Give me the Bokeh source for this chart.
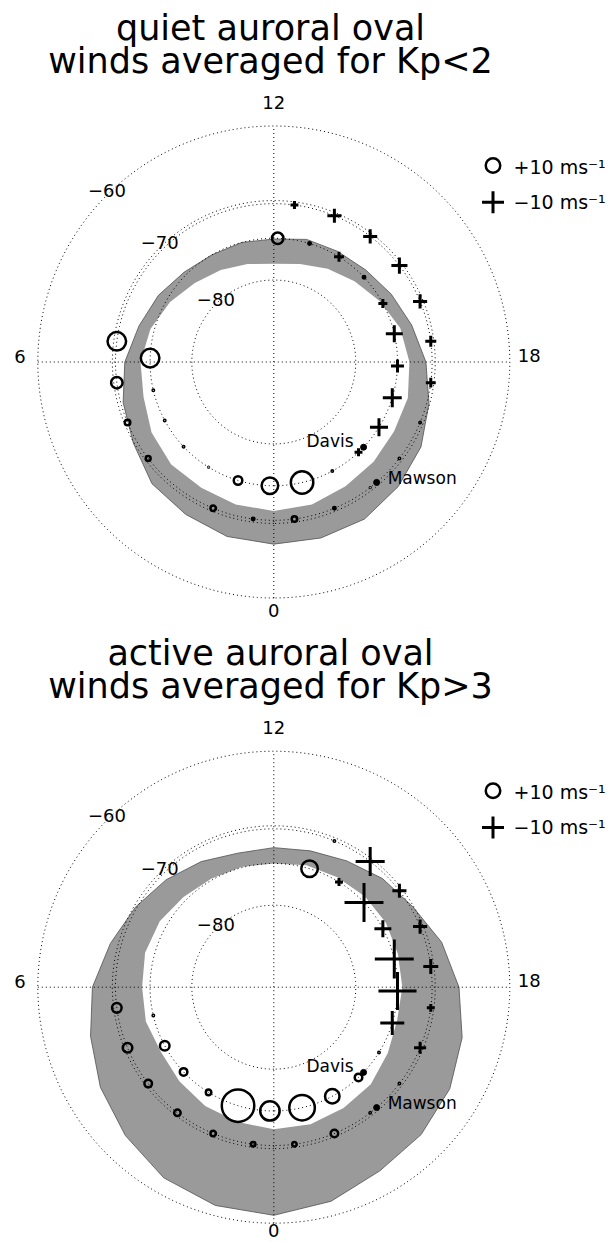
import numpy as np
from bokeh.plotting import figure
from bokeh.models import Range1d
from bokeh.layouts import column
from bokeh.embed import file_html
from bokeh.resources import INLINE
from bokeh.core.properties import value

nan = float("nan")

# ---------------- data ----------------
MLT_HOURS = [0, 1, 2, 3, 4, 5, 6, 7, 8, 9, 10, 11, 12, 13, 14, 15, 16, 17, 18, 19, 20, 21, 22, 23]

# auroral oval boundaries (geomagnetic latitude, deg) at each MLT hour
quiet_poleward = [-71.6, -71.8, -72.1, -72.1, -72.6, -73.4, -73.6, -74.3, -75.3, -76.3, -77.0, -77.6,
                  -78.0, -77.6, -76.8, -76.0, -75.0, -73.9, -73.3, -72.9, -72.9, -72.6, -72.3, -71.8]
quiet_equatorward = [-67.3, -67.5, -68.1, -68.6, -69.9, -70.7, -71.6, -72.8, -73.6, -74.4, -74.8, -74.8,
                     -74.9, -74.4, -74.3, -74.0, -73.3, -72.4, -71.2, -70.1, -68.9, -68.1, -67.4, -67.3]
active_poleward = [-72.5, -72.8, -73.1, -73.6, -74.0, -73.7, -73.8, -73.6, -73.8, -74.3, -74.6, -74.7,
                   -74.8, -74.5, -74.4, -74.2, -74.1, -74.2, -74.2, -74.3, -73.8, -73.1, -72.8, -72.5]
active_equatorward = [-61.1, -61.4, -62.2, -63.6, -64.9, -66.3, -67.4, -69.0, -70.2, -71.2, -72.1, -72.9,
                      -72.8, -72.6, -72.0, -71.0, -70.1, -68.4, -66.9, -65.6, -64.5, -63.8, -63.3, -62.0]

# stations
station_names = ["Davis", "Mawson"]
station_lat = [-74.8, -70.4]
station_mlt = [20.9, 21.3]

# MLT of wind samples along each station's track
davis_mlt = [0.12, 1.12, 2.12, 3.12, 4.12, 5.12, 6.12, 7.12, 8.12, 9.12, 10.12, 11.12,
             12.12, 13.12, 14.12, 15.12, 16.12, 17.12, 18.12, 19.12, 20.12, 21.12, 22.12, 23.12]
mawson_mlt = [0.5, 1.5, 2.5, 3.5, 4.5, 5.5, 6.5, 7.5, 8.5, 9.5, 10.5, 11.5,
              12.5, 13.5, 14.5, 15.5, 16.5, 17.5, 18.5, 19.5, 20.5, 21.5, 22.5, 23.5]

# averaged winds (m/s); positive -> octagon, negative -> cross
quiet_davis = [11.4, 5.9, 0.5, 1.0, 1.0, 1.0, 12.8, nan, nan, nan, nan, nan,
               7.9, 1.7, -4.5, 1.7, -4.1, -7.7, -5.9, -8.6, -8.2, -3.6, 1.0, 15.5]
quiet_mawson = [1.7, 3.8, nan, 3.4, 3.8, 7.9, 12.8, nan, nan, nan, nan, nan,
                -3.6, -6.4, -6.4, -7.3, -6.4, -5.0, -4.5, 1.0, 1.0, 0.5, 1.7, 3.8]
active_davis = [13.4, 22.4, 3.8, 5.2, 6.6, 1.0, nan, nan, nan, nan, nan, nan,
                nan, 11.4, -3.6, -17.7, -7.7, -17.7, -17.3, -10.9, 1.0, 5.2, 10.0, 17.6]
active_mawson = [3.1, 3.8, 4.5, 5.2, 6.6, 6.6, nan, nan, nan, nan, nan, nan,
                 nan, 1.0, -13.2, -6.4, -6.4, -6.8, -3.6, -5.5, 1.0, 1.0, 5.2, 3.1]

grid_lats = [-60, -70, -80]
grid_labels = ["\u221260", "\u221270", "\u221280"]
mlt_labels = ["12", "6", "18", "0"]
legend_value = 10
legend_texts = ["+10 ms\u207b\u00b9", "\u221210 ms\u207b\u00b9"]

titles = [["quiet auroral oval", "winds averaged for Kp<2"],
          ["active auroral oval", "winds averaged for Kp>3"]]

# ---------------- styling / layout ----------------
S = 472.0            # px per unit of cos(latitude)
W = 614
CX = 273.3
PANELS = [(625, 361.5), (617, 361.7)]
ZERO_OFFSET = [12, 7]
CIRC_K = 1.45        # px per m/s (octagon)
CROSS_K = 2.2        # px per m/s (cross)
FONT = value("DejaVu Sans")
BAND = "#9a9a9a"


def proj(mlt, lat):
    mlt = np.asarray(mlt, dtype=float)
    lat = np.asarray(lat, dtype=float)
    th = np.radians(270.0 - 15.0 * mlt)
    r = np.cos(np.radians(lat))
    return r * np.cos(th), r * np.sin(th)


def px(dx, dy):
    """pixel offset from pole (right, down) to data units"""
    return dx / S, -dy / S


def label(p, x, y, txt, size, align="center", xo=0, yo=0):
    p.text(x, y, text=txt, text_font=FONT, text_font_size=size, text_color="black",
           text_align=align, text_baseline="middle", x_offset=xo, y_offset=yo)


def panel(idx, poleward, equatorward, davis, mawson):
    H, CY = PANELS[idx]
    p = figure(width=W, height=H,
               x_range=Range1d(-CX / S, (W - CX) / S),
               y_range=Range1d(-(H - CY) / S, CY / S),
               output_backend="svg", toolbar_location=None,
               x_axis_location=None, y_axis_location=None,
               min_border=0, outline_line_color=None,
               background_fill_color="white", border_fill_color="white")
    p.grid.visible = False

    # auroral oval band
    hh = MLT_HOURS + [MLT_HOURS[0]]
    ox, oy = proj(hh, equatorward + [equatorward[0]])
    ix, iy = proj(hh, poleward + [poleward[0]])
    p.multi_polygons(xs=[[[list(ox), list(ix)]]], ys=[[[list(oy), list(iy)]]],
                     fill_color=BAND, line_color=None)
    p.line(ox, oy, line_color="#505050", line_width=0.8)

    # graticule
    t = np.linspace(0, 24, 361)
    for lat in grid_lats:
        gx, gy = proj(t, np.full_like(t, lat))
        p.line(gx, gy, line_color="black", line_width=1, line_dash="1 3")
    r60 = np.cos(np.radians(60))
    p.segment(x0=[-r60, 0], y0=[0, -r60], x1=[r60, 0], y1=[0, r60],
              line_color="black", line_width=1, line_dash="1 3")

    # station tracks
    for lat in station_lat:
        gx, gy = proj(t, np.full_like(t, lat))
        p.line(gx, gy, line_color="black", line_width=1, line_dash="1 3")

    # grid labels
    lx, ly = proj([9, 9, 9], grid_lats)
    label(p, lx, ly, grid_labels, "18px", yo=-5)
    label(p, [0], [r60], [mlt_labels[0]], "18px", yo=-23.5)
    label(p, [-r60], [0], [mlt_labels[1]], "18px", align="right", xo=-12, yo=-5.5)
    label(p, [r60], [0], [mlt_labels[2]], "18px", align="left", xo=8, yo=-6.5)
    label(p, [0], [-r60], [mlt_labels[3]], "18px", yo=ZERO_OFFSET[idx])

    # winds
    for mlt, vals, lat in ((davis_mlt, davis, station_lat[0]), (mawson_mlt, mawson, station_lat[1])):
        v = np.asarray(vals, dtype=float)
        x, y = proj(mlt, np.full(len(mlt), lat))
        pos = v > 0
        neg = v < 0
        p.scatter(x[pos], y[pos], size=CIRC_K * v[pos], marker="circle",
                  fill_color=None, line_color="black", line_width=2.5)
        p.scatter(x[neg], y[neg], size=CROSS_K * -v[neg], marker="cross",
                  line_color="black", line_width=3)

    # stations
    sx, sy = proj(station_mlt, station_lat)
    p.scatter(sx, sy, size=6, marker="circle", fill_color="black", line_color="black")
    label(p, [sx[0]], [sy[0]], [station_names[0]], "17px", align="right", xo=-10, yo=-6)
    label(p, [sx[1]], [sy[1]], [station_names[1]], "17px", align="left", xo=11, yo=-4.5)

    # legend
    gx0, gy1 = px(219.2, -196.5)
    _, gy2 = px(219.2, -159.8)
    p.scatter([gx0], [gy1], size=CIRC_K * legend_value, marker="circle",
              fill_color=None, line_color="black", line_width=2.5)
    p.scatter([gx0], [gy2], size=CROSS_K * legend_value, marker="cross",
              line_color="black", line_width=3)
    tx, ty1 = px(239.7, -194.8)
    _, ty2 = px(239.7, -159.8)
    label(p, [tx, tx], [ty1, ty2], legend_texts, "19px", align="left")

    # title
    ttx, tty1 = px(-3.3, -334.5)
    _, tty2 = px(-3.3, -301.5)
    label(p, [ttx, ttx], [tty1, tty2], titles[idx], "35px")
    return p


p1 = panel(0, quiet_poleward, quiet_equatorward, quiet_davis, quiet_mawson)
p2 = panel(1, active_poleward, active_equatorward, active_davis, active_mawson)
layout = column(p1, p2, spacing=0)

open("out.html", "w").write(file_html(layout, INLINE))
